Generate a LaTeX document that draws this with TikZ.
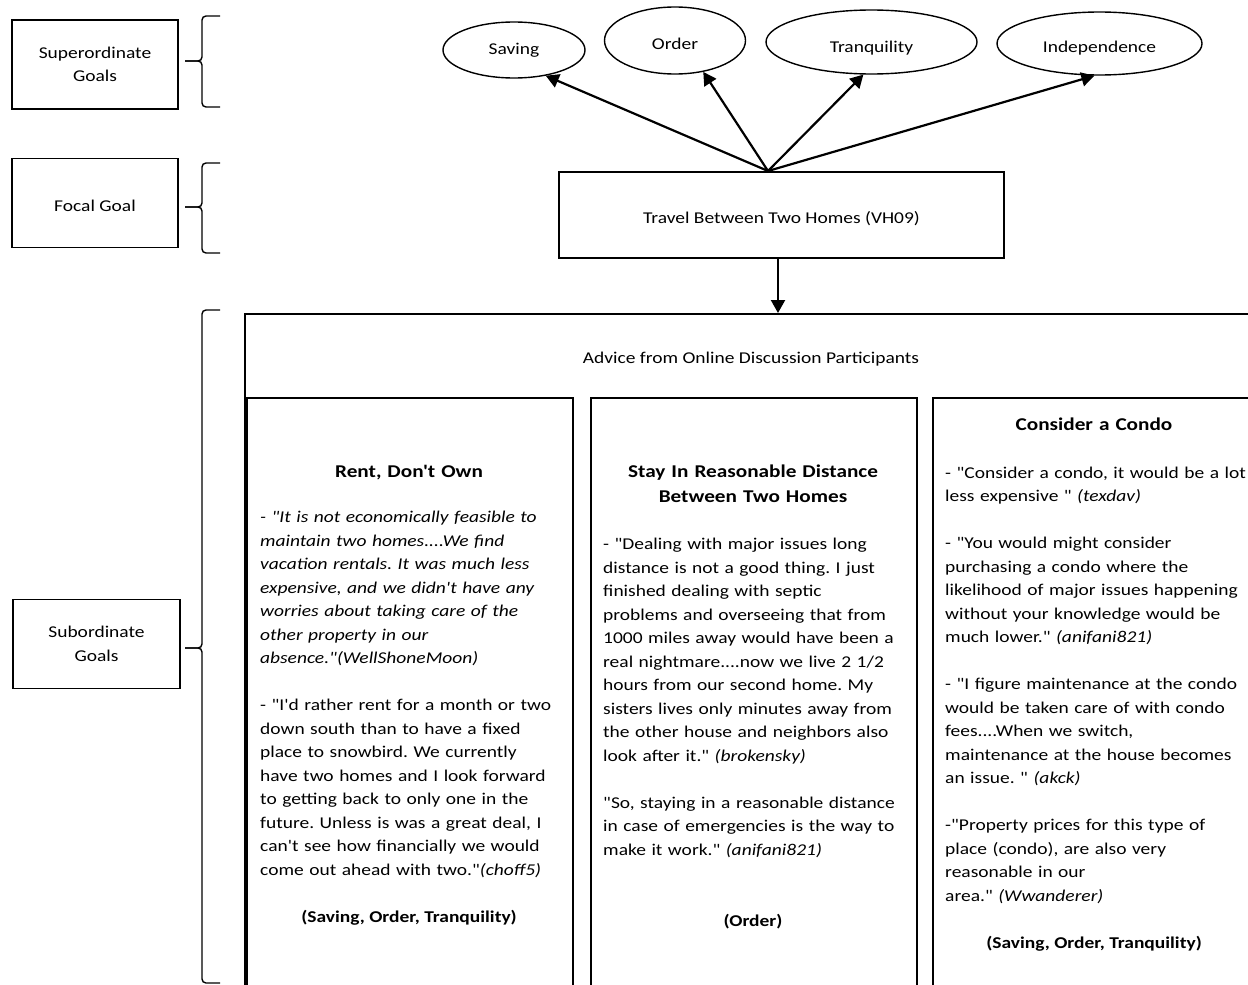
\documentclass[tikz,border=0pt]{standalone}
\usepackage{fontspec}
\setmainfont{Carlito}[FakeStretch=1.18, Ligatures=TeXOff]
\usetikzlibrary{shapes.geometric,arrows.meta}
\frenchspacing

\tikzset{
  lbl/.style={draw, line width=1.6pt, minimum width=166pt, minimum height=89pt, align=center, inner sep=0pt},
  goal/.style={draw, ellipse, line width=1.4pt, inner sep=0pt},
  panel/.style={draw, line width=1.6pt, anchor=north west, inner sep=0pt},
  link/.style={line width=2.2pt, -{Triangle[length=13pt,width=14pt]}},
  curly/.style={line width=1.4pt, rounded corners=4pt},
  said/.style={text width=340pt, align=left, anchor=base west, inner sep=0pt},
  colhead/.style={text width=320pt, align=center, anchor=base, inner sep=0pt, font=\fontsize{18}{25}\selectfont\bfseries},
  tag/.style={anchor=base, inner sep=0pt, font=\fontsize{16.5}{23.5}\selectfont\bfseries}
}

\begin{document}
\begin{tikzpicture}[x=1pt, y=-1pt, font=\fontsize{16.5}{23.5}\selectfont]
  \useasboundingbox (0,0) rectangle (1248,985);
  \clip (0,0) rectangle (1248,985);

  \node[lbl] (sup) at (95,64.5) {Superordinate\\Goals};
  \node[lbl, text height=17pt, text depth=0pt] (foc) at (95,203) {Focal Goal};
  \node[lbl, minimum width=167pt] (sub) at (96.5,644) {Subordinate\\Goals};

  \draw[curly] (220,16) -- (202,16) -- (202,61) -- (185,61);
  \draw[curly] (220,107) -- (202,107) -- (202,61) -- (185,61);
  \draw[curly] (220,163) -- (202,163) -- (202,207) -- (185,207);
  \draw[curly] (220,253) -- (202,253) -- (202,207) -- (185,207);
  \draw[curly] (220,310) -- (202,310) -- (202,648) -- (185,648);
  \draw[curly] (220,983) -- (202,983) -- (202,648) -- (185,648);

  \node[goal, minimum width=142pt, minimum height=56pt] (saving) at (514,50) {Saving};
  \node[goal, minimum width=141pt, minimum height=67pt, text height=18pt, text depth=0pt] (order) at (675,40.5) {Order};
  \node[goal, minimum width=211pt, minimum height=64pt, text height=20pt, text depth=0pt] (tranq) at (871.5,42) {Tranquility};
  \node[goal, minimum width=205pt, minimum height=63pt, text height=17.5pt, text depth=0pt] (indep) at (1099.5,43.5) {Independence};

  \node[draw, line width=1.6pt, minimum width=445pt, minimum height=86pt, text height=20pt, text depth=3.5pt] (travel) at (781.5,215) {Travel Between Two Homes (VH09)};
  \coordinate (fan) at (768,171);
  \coordinate (drop) at (778,258);

  \draw[link] (fan) -- (saving.-39);
  \draw[link] (fan) -- (order.-48);
  \draw[link] (fan) -- (tranq.-104);
  \draw[link] (fan) -- (indep.-99);

  \node[panel, minimum width=1030pt, minimum height=700pt] (advice) at (244,313) {};
  \node (advtxt) at (751,359) {Advice from Online Discussion Participants};
  \draw[link] (drop) -- (drop |- advice.north);

  \node[panel, minimum width=326pt, minimum height=640pt] (rent) at (246,397) {};
  \node[panel, minimum width=326pt, minimum height=640pt] (stay) at (590,397) {};
  \node[panel, minimum width=340pt, minimum height=640pt] (condo) at (932,397) {};

  \node[colhead] (renthd) at (409,477) {Rent, Don't Own};
  \node[said] (renttxt) at (260,522.5) {\itshape - "It is not economically feasible to\\
    maintain two homes....We find\\
    vacation rentals. It was much less\\
    expensive, and we didn't have any\\
    worries about taking care of the\\
    other property in our\\
    absence."(WellShoneMoon)\\[23.5pt]
    \upshape - "I'd rather rent for a month or two\\
    down south than to have a fixed\\
    place to snowbird. We currently\\
    have two homes and I look forward\\
    to getting back to only one in the\\
    future. Unless is was a great deal, I\\
    can't see how financially we would\\
    come out ahead with two."\textit{(choff5)}};
  \node[tag] (renttag) at (409,922) {(Saving, Order, Tranquility)};

  \node[colhead] (stayhd) at (753,477) {Stay In Reasonable Distance\\Between Two Homes};
  \node[said] (staytxt) at (603,549.5) {- "Dealing with major issues long\\
    distance is not a good thing. I just\\
    finished dealing with septic\\
    problems and overseeing that from\\
    1000 miles away would have been a\\
    real nightmare....now we live 2 1/2\\
    hours from our second home. My\\
    sisters lives only minutes away from\\
    the other house and neighbors also\\
    look after it." \textit{(brokensky)}\\[23.5pt]
    "So, staying in a reasonable distance\\
    in case of emergencies is the way to\\
    make it work." \textit{(anifani821)}};
  \node[tag] (staytag) at (753,926) {(Order)};

  \node[colhead] (condohd) at (1094,430) {Consider a Condo};
  \node[said] (condotxt) at (945,478) {- "Consider a condo, it would be a lot\\
    less expensive " \textit{(texdav)}\\[23.5pt]
    - "You would might consider\\
    purchasing a condo where the\\
    likelihood of major issues happening\\
    without your knowledge would be\\
    much lower." \textit{(anifani821)}\\[23.5pt]
    - "I figure maintenance at the condo\\
    would be taken care of with condo\\
    fees....When we switch,\\
    maintenance at the house becomes\\
    an issue. " \textit{(akck)}\\[23.5pt]
    -"Property prices for this type of\\
    place (condo), are also very\\
    reasonable in our\\
    area." \textit{(Wwanderer)}};
  \node[tag] (condotag) at (1094,948) {(Saving, Order, Tranquility)};
\end{tikzpicture}
\end{document}
